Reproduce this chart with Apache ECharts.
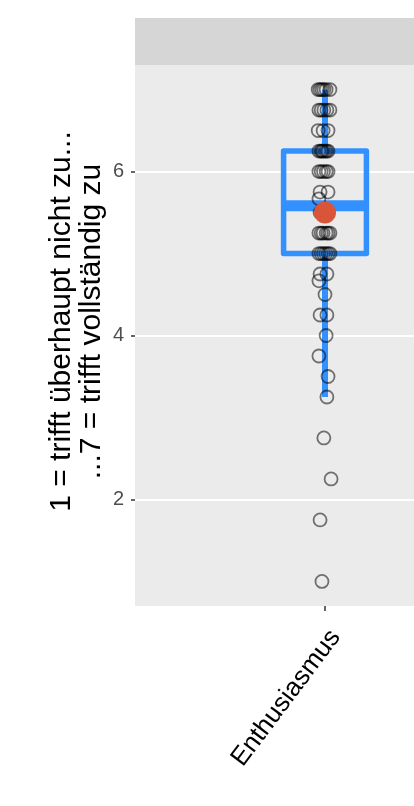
<!DOCTYPE html>
<html>
<head>
<meta charset="utf-8">
<script src="https://cdn.jsdelivr.net/npm/echarts@6/dist/echarts.min.js"></script>
<style>
html,body{margin:0;padding:0;background:#fff;}
#chart{width:414px;height:806px;}
</style>
</head>
<body>
<div id="chart"></div>
<script>
const categories = ['Enthusiasmus'];
const yTickValues = [2, 4, 6];
const yTitle = '1 = trifft überhaupt nicht zu...\n...7 = trifft vollständig zu';
// box statistics: [lower whisker, Q1, median, Q3, upper whisker]
const boxStats = [3.25, 5.0, 5.583, 6.25, 7.0];
const meanValue = 5.5;
// individual responses and their horizontal jitter (fraction of category width)
const pointValues = [
  7, 7, 7, 7, 7, 7,
  6.75, 6.75, 6.75, 6.75, 6.75,
  6.5, 6.5, 6.5,
  6.25, 6.25, 6.25, 6.25, 6.25, 6.25, 6.25,
  6, 6, 6, 6, 6,
  5.75, 5.75,
  5.667,
  5.5, 5.5, 5.5,
  5.25, 5.25, 5.25, 5.25, 5.25, 5.25,
  5, 5, 5, 5, 5, 5,
  4.75, 4.75,
  4.667,
  4.5,
  4.25, 4.25,
  4,
  3.75,
  3.5,
  3.25,
  2.75,
  2.25,
  1.75,
  1
];
const pointJitter = [
  -0.018, -0.013, -0.008, -0.003, 0.003, 0.013,
  -0.016, -0.010, -0.003, 0.005, 0.013,
  -0.018, -0.005, 0.008,
  -0.016, -0.011, -0.008, -0.005, 0, 0.004, 0.008,
  -0.016, -0.010, -0.004, 0.003, 0.008,
  -0.013, 0.008,
  -0.016,
  -0.013, 0, 0.008,
  -0.016, -0.010, -0.005, 0.003, 0.008, 0.013,
  -0.016, -0.010, -0.004, 0.002, 0.008, 0.013,
  -0.013, 0.005,
  -0.016,
  0,
  -0.013, 0.005,
  0.003,
  -0.016,
  0.008,
  0.005,
  -0.003,
  0.016,
  -0.013,
  -0.008
];

const BLUE = '#3390FF';
const RED = '#D9553A';
const FONT = '"Liberation Sans", Arial, Helvetica, sans-serif';

const chart = echarts.init(document.getElementById('chart'), null, {renderer: 'canvas'});

const jitterData = pointValues.map((v, i) => [pointJitter[i], v]);

const option = {
  animation: false,
  backgroundColor: '#ffffff',
  textStyle: {fontFamily: FONT},
  graphic: [{
    type: 'rect',
    left: 135, top: 18,
    shape: {width: 380, height: 47},
    style: {fill: '#D6D6D6'},
    z: -1
  }],
  grid: {
    left: 135, top: 65, width: 380, bottom: 200,
    show: true, backgroundColor: '#EBEBEB', borderWidth: 0,
    containLabel: false,
    outerBoundsMode: 'none'
  },
  xAxis: [{
    type: 'category',
    data: categories,
    boundaryGap: true,
    axisLine: {show: false, onZero: false},
    axisTick: {show: true, alignWithLabel: true, length: 5, lineStyle: {color: '#333333', width: 1.5}},
    axisLabel: {
      rotate: 53, fontSize: 26, color: '#000000', margin: 19, fontFamily: FONT,
      verticalAlign: 'top'
    },
    splitLine: {show: false}
  }, {
    type: 'value',
    min: -0.5, max: 0.5,
    show: false,
    axisLine: {onZero: false},
    splitLine: {show: false}
  }],
  yAxis: {
    type: 'value',
    min: 0.7, max: 7.3,
    axisLine: {show: false, onZero: false},
    axisTick: {show: true, length: 4, lineStyle: {color: '#333333', width: 1.5}, customValues: yTickValues},
    axisLabel: {fontSize: 20, color: '#4D4D4D', margin: 11, fontFamily: FONT, customValues: yTickValues},
    splitLine: {show: true, lineStyle: {color: '#FFFFFF', width: 2}},
    name: yTitle,
    nameLocation: 'middle',
    nameRotate: 90,
    nameGap: 28,
    nameMoveOverlap: false,
    nameTextStyle: {fontSize: 30, color: '#000000', lineHeight: 30, fontFamily: FONT, align: 'center', padding: [0, 0, 0, 28]}
  },
  series: [{
    type: 'custom',
    xAxisIndex: 0,
    data: [[0].concat(boxStats)],
    z: 2,
    renderItem: function (params, api) {
      const x = api.value(0);
      const pMin = api.coord([x, api.value(1)]);
      const pQ1 = api.coord([x, api.value(2)]);
      const pMed = api.coord([x, api.value(3)]);
      const pQ3 = api.coord([x, api.value(4)]);
      const pMax = api.coord([x, api.value(5)]);
      const band = api.size([1, 0])[0];
      const hw = band * 0.109;
      const cx = pMed[0];
      return {
        type: 'group',
        children: [
          {type: 'line', shape: {x1: cx, y1: pQ3[1], x2: cx, y2: pMax[1]}, style: {stroke: BLUE, lineWidth: 6, lineCap: 'butt'}},
          {type: 'line', shape: {x1: cx, y1: pQ1[1], x2: cx, y2: pMin[1]}, style: {stroke: BLUE, lineWidth: 6, lineCap: 'butt'}},
          {type: 'rect', shape: {x: cx - hw, y: pQ3[1], width: 2 * hw, height: pQ1[1] - pQ3[1]}, style: {stroke: BLUE, fill: 'none', lineWidth: 5.5, lineJoin: 'round'}},
          {type: 'line', shape: {x1: cx - hw, y1: pMed[1], x2: cx + hw, y2: pMed[1]}, style: {stroke: BLUE, lineWidth: 11, lineCap: 'butt'}}
        ]
      };
    }
  }, {
    type: 'scatter',
    xAxisIndex: 1,
    data: jitterData,
    symbol: 'circle',
    symbolSize: 13,
    z: 3,
    itemStyle: {color: 'rgba(0,0,0,0)', borderColor: 'rgba(0,0,0,0.66)', borderWidth: 1.8},
    emphasis: {disabled: true}
  }, {
    type: 'scatter',
    xAxisIndex: 0,
    data: [[0, meanValue]],
    symbol: 'circle',
    symbolSize: 22,
    z: 4,
    itemStyle: {color: RED, opacity: 1},
    emphasis: {disabled: true}
  }]
};

chart.setOption(option);
</script>
</body>
</html>
